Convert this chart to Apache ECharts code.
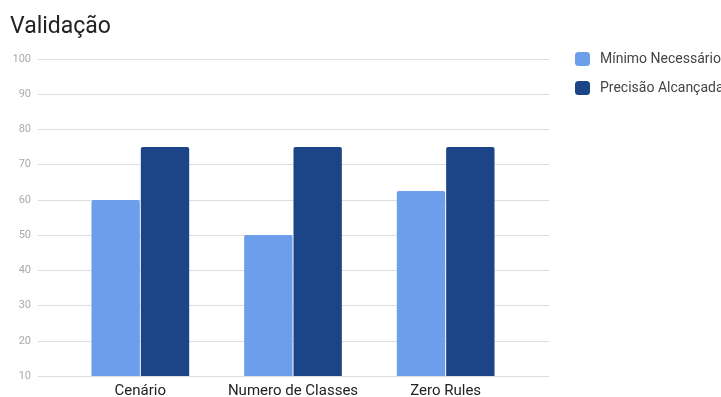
<!DOCTYPE html>
<html><head><meta charset="utf-8">
<script src="https://cdn.jsdelivr.net/npm/echarts@6/dist/echarts.min.js"></script>
<style>html,body{margin:0;padding:0;background:#fff}#c{width:721px;height:397px}</style>
</head><body><div id="c"></div>
<script>
var categories = ['Cenário', 'Numero de Classes', 'Zero Rules'];
var minimoNecessario = [60, 50, 62.5];
var precisaoAlcancada = [75, 75, 75];
var seriesNames = ['Mínimo Necessário', 'Precisão Alcançada'];
var yMin = 10, yMax = 100, yStep = 10;

var chart = echarts.init(document.getElementById('c'));
chart.setOption({
  animation: false,
  textStyle: { fontFamily: 'Roboto' },
  title: { text: 'Validação', left: 5, top: 11, textStyle: { fontSize: 23, fontWeight: 'normal', color: '#222', fontFamily: 'Roboto' } },
  legend: {
    orient: 'vertical', left: 570, top: 47, itemWidth: 15, itemHeight: 14, itemGap: 15, icon: 'roundRect',
    textStyle: { fontSize: 14, color: '#444', fontFamily: 'Roboto', padding: [0, 0, 0, 5] },
    data: seriesNames
  },
  grid: [
    { left: 38, right: 172, top: 59, bottom: 21, outerBoundsMode: 'none', containLabel: false },
    { left: 64, right: 199, top: 59, bottom: 21, outerBoundsMode: 'none', containLabel: false }
  ],
  xAxis: [
    { gridIndex: 0, type: 'value', min: 0, max: 1, show: false },
    { gridIndex: 1, type: 'category', data: categories,
      axisLine: { show: false }, axisTick: { show: false },
      axisLabel: { interval: 0, color: '#222', fontSize: 15, margin: 8, fontFamily: 'Roboto' } }
  ],
  yAxis: [
    { gridIndex: 0, type: 'value', min: yMin, max: yMax, interval: yStep,
      axisLine: { show: false }, axisTick: { show: false },
      axisLabel: { color: '#aaa', fontSize: 11, margin: 7, fontFamily: 'Roboto' },
      splitLine: { lineStyle: { color: '#ddd', width: 1 } } },
    { gridIndex: 1, type: 'value', min: yMin, max: yMax, interval: yStep, show: false, splitLine: { show: false } }
  ],
  series: [
    { name: seriesNames[0], type: 'bar', xAxisIndex: 1, yAxisIndex: 1, data: minimoNecessario,
      barGap: '2%', barCategoryGap: '36%', itemStyle: { color: '#6d9eeb', borderRadius: [2, 2, 0, 0] } },
    { name: seriesNames[1], type: 'bar', xAxisIndex: 1, yAxisIndex: 1, data: precisaoAlcancada,
      barGap: '2%', barCategoryGap: '36%', itemStyle: { color: '#1c4587', borderRadius: [2, 2, 0, 0] } }
  ]
});
</script></body></html>
